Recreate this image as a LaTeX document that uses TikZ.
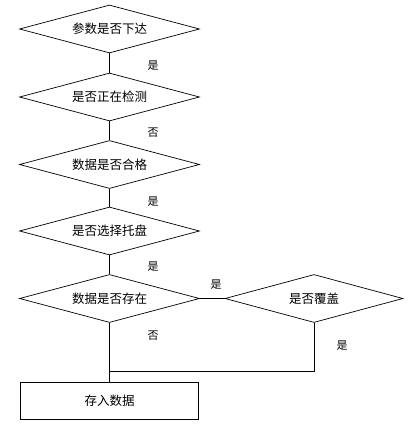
\documentclass[tikz,border=0pt]{standalone}
\usepackage{fontspec}
\newfontfamily\cjk{Noto Sans CJK SC}
\usetikzlibrary{shapes.geometric}
\begin{document}
\begin{tikzpicture}[x=1pt,y=-1pt,
  decision/.style={draw=black,line width=0.7pt,shape=diamond,inner sep=0pt,aspect=3.75,
    minimum width=180pt,minimum height=48pt,font=\fontsize{12.5pt}{14pt}\selectfont\cjk},
  process/.style={draw=black,line width=0.7pt,rectangle,inner sep=0pt,
    minimum width=178pt,minimum height=37pt,font=\fontsize{12.5pt}{14pt}\selectfont\cjk},
  lbl/.style={font=\fontsize{11pt}{13pt}\selectfont\cjk,inner sep=0pt},
  conn/.style={draw=black,line width=0.7pt}]
\useasboundingbox (0,0) rectangle (409,425);
\fill[white] (0,0) rectangle (409,425);
\node[decision] (d1) at (109.5,29) {参数是否下达};
\node[decision] (d2) at (109.5,97) {是否正在检测};
\node[decision] (d3) at (109.5,164.5) {数据是否合格};
\node[decision] (d4) at (109.5,231) {是否选择托盘};
\node[decision] (d5) at (109.5,298.5) {数据是否存在};
\node[decision,minimum width=178pt] (d6) at (314,298.5) {是否覆盖};
\node[process] (r) at (109.5,400.5) {存入数据};
\coordinate (j) at (314,371);
\coordinate (m) at (109.5,371);
\draw[conn] (d1.south) -- (d2.north);
\draw[conn] (d2.south) -- (d3.north);
\draw[conn] (d3.south) -- (d4.north);
\draw[conn] (d4.south) -- (d5.north);
\draw[conn] (d5.east) -- (d6.west);
\draw[conn] (d5.south) -- (r.north);
\draw[conn] (d6.south) -- (j) -- (m);
\node[lbl] (l1) at (153,66) {是};
\node[lbl] (l2) at (153,133) {否};
\node[lbl] (l3) at (153,202) {是};
\node[lbl] (l4) at (153,267) {是};
\node[lbl] (l5) at (216,285) {是};
\node[lbl] (l6) at (153,336) {否};
\node[lbl] (l7) at (342,346) {是};
\end{tikzpicture}
\end{document}
